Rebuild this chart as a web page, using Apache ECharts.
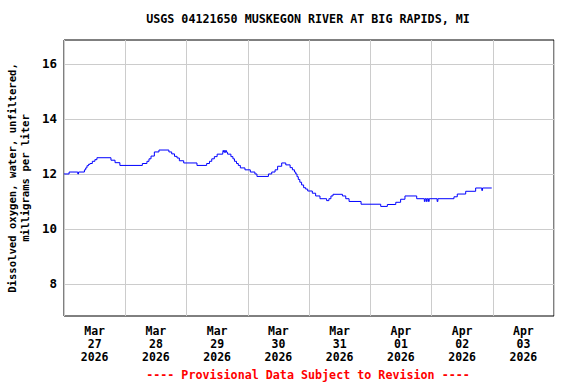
<!DOCTYPE html>
<html>
<head>
<meta charset="utf-8">
<script src="https://cdn.jsdelivr.net/npm/echarts@6/dist/echarts.min.js"></script>
<style>html,body{margin:0;padding:0;background:#fff}#c{width:576px;height:384px}</style>
</head>
<body>
<div id="c"></div>
<script>
// x axis categories (day labels, centered on each day)
const dayLabels = ["Mar\n27\n2026","Mar\n28\n2026","Mar\n29\n2026","Mar\n30\n2026","Mar\n31\n2026","Apr\n01\n2026","Apr\n02\n2026","Apr\n03\n2026"];
// y tick labels
const yTicks = [8, 10, 12, 14, 16];
// observation times: hours after Mar 27 00:00 (points where the reading changes)
const hours = [0,2.0,5.4,5.7,8.0,8.5,9.0,9.6,10.2,11.1,12.1,12.9,18.4,20.0,21.9,30.7,32.5,33.3,34.1,35.4,37.2,41.1,42.2,43.3,44.3,45.2,46.9,52.1,55.9,57.0,57.9,58.9,60.0,62.2,62.4,62.6,63.0,63.2,63.5,63.7,64.1,65.4,66.2,66.8,67.6,68.3,69.1,70.9,73.0,74.8,75.6,80.1,81.4,82.7,83.7,85.3,86.9,88.6,89.5,90.3,90.8,91.3,91.8,92.4,93.1,93.9,94.7,95.5,97.3,98.6,100.3,102.9,103.8,104.6,105.4,109.1,110.4,111.7,116.4,124.1,126.7,130.0,131.9,133.6,138.2,141.2,141.5,142.0,142.3,142.8,143.1,146.2,146.5,152.8,154.1,157.4,161.3,163.7,164.0,167.6];
// dissolved oxygen, mg/L
const oxygen = [12.0,12.07,12.0,12.07,12.15,12.22,12.3,12.35,12.38,12.46,12.52,12.59,12.5,12.41,12.31,12.38,12.46,12.55,12.65,12.8,12.87,12.8,12.73,12.64,12.58,12.48,12.4,12.31,12.38,12.46,12.55,12.63,12.72,12.79,12.86,12.79,12.86,12.79,12.86,12.79,12.72,12.63,12.55,12.46,12.38,12.31,12.22,12.15,12.07,12.0,11.91,12.0,12.07,12.15,12.28,12.4,12.33,12.23,12.15,12.07,12.0,11.9,11.8,11.7,11.6,11.5,11.45,11.38,11.3,11.2,11.1,11.03,11.1,11.2,11.26,11.2,11.1,11.0,10.9,10.82,10.89,10.97,11.08,11.2,11.1,11.0,11.1,11.0,11.1,11.0,11.1,11.0,11.1,11.17,11.27,11.37,11.49,11.4,11.49,11.49];

const data = hours.map((h, i) => [h, oxygen[i]]);
const mono = '"DejaVu Sans Mono", "Liberation Mono", monospace';

const chart = echarts.init(document.getElementById('c'), null, {renderer: 'svg'});
chart.setOption({
  animation: false,
  backgroundColor: '#fff',
  grid: {left: 64, right: 22, top: 40, bottom: 68, show: true, borderColor: '#000', borderWidth: 1, backgroundColor: 'transparent', containLabel: false, outerBoundsMode: 'none'},
  xAxis: [
    {
      type: 'category', data: dayLabels, boundaryGap: true, position: 'bottom',
      axisLine: {show: false}, axisTick: {show: false},
      splitLine: {show: true, interval: 0, lineStyle: {color: '#cccccc', width: 1}},
      axisLabel: {interval: 0, margin: 8, color: '#000', fontFamily: mono, fontWeight: 'bold', fontSize: 11.5, lineHeight: 13}
    },
    {
      type: 'value', min: 0, max: 192, show: false, position: 'bottom'
    }
  ],
  yAxis: {
    type: 'value', min: 6.836, max: 16.87,
    axisLine: {show: false},
    axisTick: {show: false, customValues: yTicks},
    splitLine: {show: true, lineStyle: {color: '#cccccc', width: 1}},
    axisLabel: {customValues: yTicks, margin: 7, color: '#000', fontFamily: mono, fontWeight: 'bold', fontSize: 12.5},
    name: 'Dissolved oxygen, water, unfiltered,\nmilligrams per liter',
    nameLocation: 'middle', nameRotate: 90, nameGap: 33,
    nameTextStyle: {color: '#000', fontFamily: mono, fontWeight: 'bold', fontSize: 10.6, lineHeight: 13, align: 'center'}
  },
  series: [{
    type: 'line', xAxisIndex: 1, data: data, step: 'end', showSymbol: false,
    lineStyle: {color: '#0000ff', width: 1}, z: 5
  }],
  graphic: [
    {type: 'text', x: 308, y: 19, style: {text: 'USGS 04121650 MUSKEGON RIVER AT BIG RAPIDS, MI', textAlign: 'center', textVerticalAlign: 'middle', fill: '#000', font: 'bold 11.7px ' + mono}},
    {type: 'text', x: 308, y: 375, style: {text: '---- Provisional Data Subject to Revision ----', textAlign: 'center', textVerticalAlign: 'middle', fill: '#ff0000', font: 'bold 11.7px ' + mono}}
  ]
});
</script>
</body>
</html>
